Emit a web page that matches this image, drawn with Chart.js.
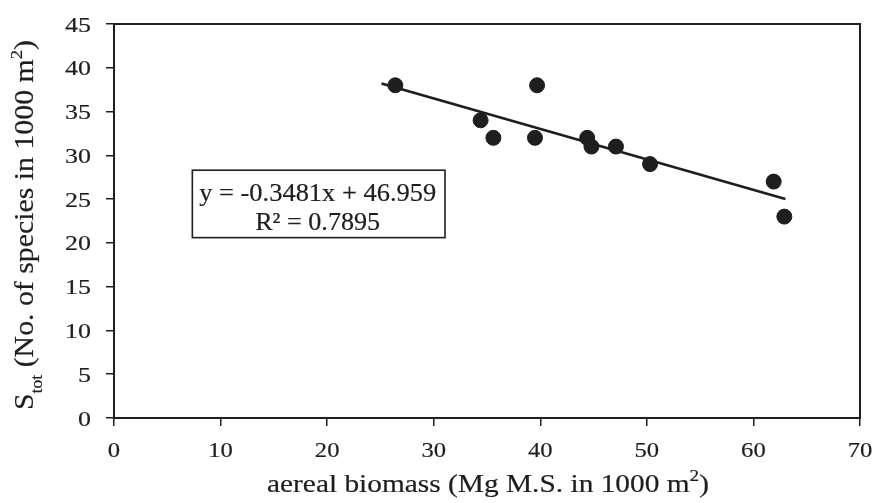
<!DOCTYPE html>
<html>
<head>
<meta charset="utf-8">
<script src="https://cdn.jsdelivr.net/npm/chart.js@4.4.0/dist/chart.umd.min.js"></script>
<style>
  html, body { margin: 0; padding: 0; background: #fff; }
  #wrap { width: 875px; height: 503px; }
</style>
</head>
<body>
<div id="wrap"><canvas id="chart" width="875" height="503"></canvas></div>
<script>
// data
const biomass = [26.4, 34.4, 35.6, 39.5, 39.7, 44.4, 44.8, 47.1, 50.3, 61.9, 62.9];
const species = [38, 34, 32, 32, 38, 32, 31, 31, 29, 27, 23];
// trend line end points
const trendX = [25.1, 63.0];
const trendY = [38.2, 25.0];
const eqLines = ['y = -0.3481x + 46.959', 'R\u00b2 = 0.7895'];

const serif = '"Liberation Serif", "Times New Roman", serif';
const ink = '#1e1e1e';

// draw text pieces, scaled horizontally to a target width (or by a factor)
function drawParts(ctx, parts, x, y, targetW, align, factor) {
  let w = 0;
  parts.forEach(p => { ctx.font = p.size + 'px ' + serif; p.w = ctx.measureText(p.t).width; w += p.w; });
  const sx = targetW ? targetW / w : (factor || 1);
  ctx.save();
  ctx.translate(x, y);
  ctx.scale(sx, 1);
  let cx = align === 'center' ? -w / 2 : (align === 'right' ? -w : 0);
  ctx.textAlign = 'left';
  ctx.textBaseline = 'alphabetic';
  ctx.strokeStyle = ctx.fillStyle;
  ctx.lineWidth = 0.2;
  parts.forEach(p => {
    ctx.font = p.size + 'px ' + serif;
    ctx.fillText(p.t, cx, p.dy || 0);
    ctx.strokeText(p.t, cx, p.dy || 0);
    cx += p.w;
  });
  ctx.restore();
}

const decor = {
  id: 'decor',
  beforeDatasetsDraw(chart) {
    const { ctx, chartArea: a } = chart;
    ctx.save();
    ctx.strokeStyle = ink;
    ctx.lineWidth = 2;
    ctx.strokeRect(a.left, a.top, a.right - a.left, a.bottom - a.top);
    ctx.restore();
  },
  afterDraw(chart) {
    const { ctx, scales } = chart;
    const xs = scales.x, ys = scales.y;
    ctx.save();
    ctx.fillStyle = ink;

    // tick labels
    ys.ticks.forEach(t => {
      const py = ys.getPixelForValue(t.value);
      drawParts(ctx, [{ t: String(t.value), size: 22 }], 91, py + 7.5, null, 'right', 1.18);
    });
    xs.ticks.forEach(t => {
      const px = xs.getPixelForValue(t.value);
      drawParts(ctx, [{ t: String(t.value), size: 22 }], px, 457, null, 'center', 1.12);
    });

    // axis titles
    drawParts(ctx, [
      { t: 'aereal biomass (Mg M.S. in 1000 m', size: 26 },
      { t: '2', size: 17, dy: -11 },
      { t: ')', size: 26 }
    ], 488, 492, 442, 'center');

    ctx.save();
    ctx.translate(33, 225);
    ctx.rotate(-Math.PI / 2);
    drawParts(ctx, [
      { t: 'S', size: 27 },
      { t: 'tot', size: 16, dy: 9 },
      { t: ' (No. of species in 1000 m', size: 27 },
      { t: '2', size: 17, dy: -11 },
      { t: ')', size: 27 }
    ], 0, 0, 370, 'center');
    ctx.restore();

    // equation box
    const x0 = xs.getPixelForValue(7.35), x1 = xs.getPixelForValue(31.06);
    const y0 = ys.getPixelForValue(28.3), y1 = ys.getPixelForValue(20.6);
    ctx.fillStyle = '#fff';
    ctx.fillRect(x0, y0, x1 - x0, y1 - y0);
    ctx.strokeStyle = ink;
    ctx.lineWidth = 1.6;
    ctx.strokeRect(x0, y0, x1 - x0, y1 - y0);
    ctx.fillStyle = ink;
    const cx = (x0 + x1) / 2 - 1;
    drawParts(ctx, [{ t: eqLines[0], size: 26 }], cx, y0 + 31, 237, 'center');
    drawParts(ctx, [{ t: eqLines[1], size: 25 }], cx, y0 + 60, 125, 'center');
    ctx.restore();
  }
};

new Chart(document.getElementById('chart'), {
  type: 'scatter',
  data: {
    datasets: [
      {
        label: 'Stot',
        data: biomass.map((v, i) => ({ x: v, y: species[i] })),
        backgroundColor: ink,
        borderColor: ink,
        pointRadius: 7.5,
        order: 0
      },
      {
        type: 'line',
        label: 'trend',
        data: trendX.map((v, i) => ({ x: v, y: trendY[i] })),
        borderColor: ink,
        borderWidth: 2.6,
        pointRadius: 0,
        fill: false,
        order: 1
      }
    ]
  },
  options: {
    responsive: false,
    animation: false,
    events: [],
    layout: { padding: { top: 24, right: 15, left: 0, bottom: 0 } },
    plugins: { legend: { display: false }, tooltip: { enabled: false } },
    scales: {
      x: {
        type: 'linear',
        min: 0, max: 70,
        ticks: { stepSize: 10, display: false },
        grid: { drawOnChartArea: false, drawTicks: true, tickLength: 8, color: ink, lineWidth: 1.5 },
        border: { display: true, color: ink, width: 2 },
        afterFit(s) { s.height = 85; }
      },
      y: {
        min: 0, max: 45,
        ticks: { stepSize: 5, display: false },
        grid: { drawOnChartArea: false, drawTicks: true, tickLength: 8, color: ink, lineWidth: 1.5 },
        border: { display: true, color: ink, width: 2 },
        afterFit(s) { s.width = 114; }
      }
    }
  },
  plugins: [decor]
});
</script>
</body>
</html>
